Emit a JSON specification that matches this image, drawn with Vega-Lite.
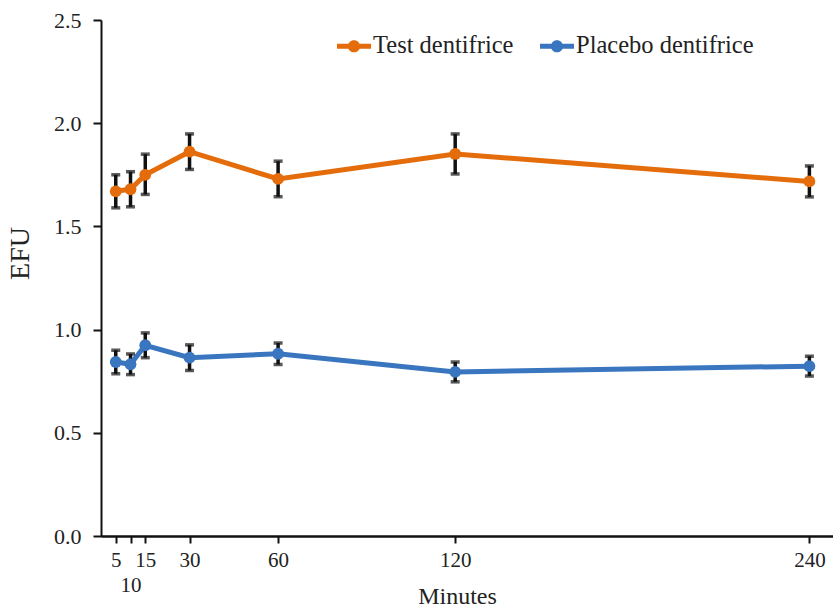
{
  "$schema": "https://vega.github.io/schema/vega-lite/v6.json",
  "autosize": {"type": "none"},
  "padding": {"left": 101, "top": 20, "right": 0, "bottom": 73},
  "width": 732,
  "height": 516,
  "background": "white",
  "config": {
    "view": {"stroke": null},
    "font": "Liberation Serif",
    "axis": {
      "domainColor": "#111",
      "domainWidth": 2,
      "tickColor": "#111",
      "tickWidth": 2,
      "tickSize": 7,
      "grid": false,
      "labelFont": "Liberation Serif",
      "labelFontSize": 21,
      "labelColor": "#222",
      "titleFont": "Liberation Serif",
      "titleFontWeight": "normal",
      "titleColor": "#222"
    },
    "legend": {
      "labelFont": "Liberation Serif",
      "labelFontSize": 24,
      "labelColor": "#222"
    }
  },
  "data": {
    "values": [
      {"minute": 5, "group": "Test dentifrice", "efu": 1.67, "lo": 1.59, "hi": 1.75},
      {"minute": 10, "group": "Test dentifrice", "efu": 1.68, "lo": 1.595, "hi": 1.765},
      {"minute": 15, "group": "Test dentifrice", "efu": 1.75, "lo": 1.655, "hi": 1.85},
      {"minute": 30, "group": "Test dentifrice", "efu": 1.862, "lo": 1.776, "hi": 1.948},
      {"minute": 60, "group": "Test dentifrice", "efu": 1.73, "lo": 1.644, "hi": 1.816},
      {"minute": 120, "group": "Test dentifrice", "efu": 1.851, "lo": 1.754, "hi": 1.948},
      {"minute": 240, "group": "Test dentifrice", "efu": 1.718, "lo": 1.643, "hi": 1.793},
      {"minute": 5, "group": "Placebo dentifrice", "efu": 0.843, "lo": 0.786, "hi": 0.9},
      {"minute": 10, "group": "Placebo dentifrice", "efu": 0.832, "lo": 0.782, "hi": 0.882},
      {"minute": 15, "group": "Placebo dentifrice", "efu": 0.924, "lo": 0.864, "hi": 0.984},
      {"minute": 30, "group": "Placebo dentifrice", "efu": 0.864, "lo": 0.802, "hi": 0.926},
      {"minute": 60, "group": "Placebo dentifrice", "efu": 0.883, "lo": 0.831, "hi": 0.935},
      {"minute": 120, "group": "Placebo dentifrice", "efu": 0.795, "lo": 0.747, "hi": 0.843},
      {"minute": 240, "group": "Placebo dentifrice", "efu": 0.823, "lo": 0.775, "hi": 0.871}
    ]
  },
  "resolve": {"axis": {"x": "independent"}},
  "layer": [
    {
      "mark": {"type": "line", "strokeWidth": 5},
      "encoding": {
        "x": {
          "field": "minute",
          "type": "quantitative",
          "scale": {"domain": [0, 248], "nice": false, "zero": false},
          "axis": {
            "orient": "bottom",
            "title": "Minutes",
            "titleFontSize": 24,
            "titleX": 356,
            "titleY": 67,
            "titleBaseline": "alphabetic",
            "values": [5, 15, 30, 60, 120, 240],
            "labelFont": "Liberation Serif",
            "labelFontSize": 21,
            "labelPadding": 6,
            "labelFlush": false,
            "labelOverlap": false
          }
        },
        "y": {
          "field": "efu",
          "type": "quantitative",
          "title": "EFU",
          "scale": {"domain": [0, 2.5], "nice": false},
          "axis": {
            "title": "EFU",
            "titleFontSize": 28,
            "titleX": -67,
            "titleY": 233,
            "titleBaseline": "bottom",
            "values": [0, 0.5, 1, 1.5, 2, 2.5],
            "format": ".1f",
            "labelFont": "Liberation Serif",
            "labelFontSize": 22,
            "labelPadding": 12,
            "tickSize": 8
          }
        },
        "color": {
          "field": "group",
          "type": "nominal",
          "scale": {"domain": ["Test dentifrice", "Placebo dentifrice"], "range": ["#E46C0A", "#3A76BF"]},
          "legend": {
            "title": null,
            "orient": "none",
            "legendX": 236,
            "legendY": 9,
            "direction": "horizontal",
            "padding": 0,
            "symbolType": "M-1,-0.15L1,-0.15L1,0.15L-1,0.15Z M0.36,0 A0.36,0.36 0 1,1 -0.36,0 A0.36,0.36 0 1,1 0.36,0 Z",
            "symbolSize": 1156,
            "symbolStrokeWidth": 0,
            "symbolOpacity": 1,
            "labelOffset": 2,
            "labelLimit": 400,
            "labelFontSize": 24.5,
            "columnPadding": 26
          }
        }
      }
    },
    {
      "mark": {"type": "errorbar", "color": "#111", "thickness": 3.5, "ticks": {"size": 9, "thickness": 3.5, "color": "#111"}},
      "encoding": {
        "x": {
          "field": "minute",
          "type": "quantitative",
          "axis": {
            "orient": "bottom",
            "title": null,
            "values": [10],
            "labelFont": "Liberation Serif",
            "labelFontSize": 21,
            "labelPadding": 31,
            "labelFlush": false,
            "labelOverlap": false
          }
        },
        "y": {"field": "lo", "type": "quantitative", "title": "EFU"},
        "y2": {"field": "hi"},
        "detail": {"field": "group"}
      }
    },
    {
      "mark": {"type": "point", "filled": true, "opacity": 1, "size": 140, "shape": "circle"},
      "encoding": {
        "x": {"field": "minute", "type": "quantitative", "axis": null},
        "y": {"field": "efu", "type": "quantitative", "title": "EFU"},
        "color": {"field": "group", "type": "nominal"}
      }
    }
  ]
}
